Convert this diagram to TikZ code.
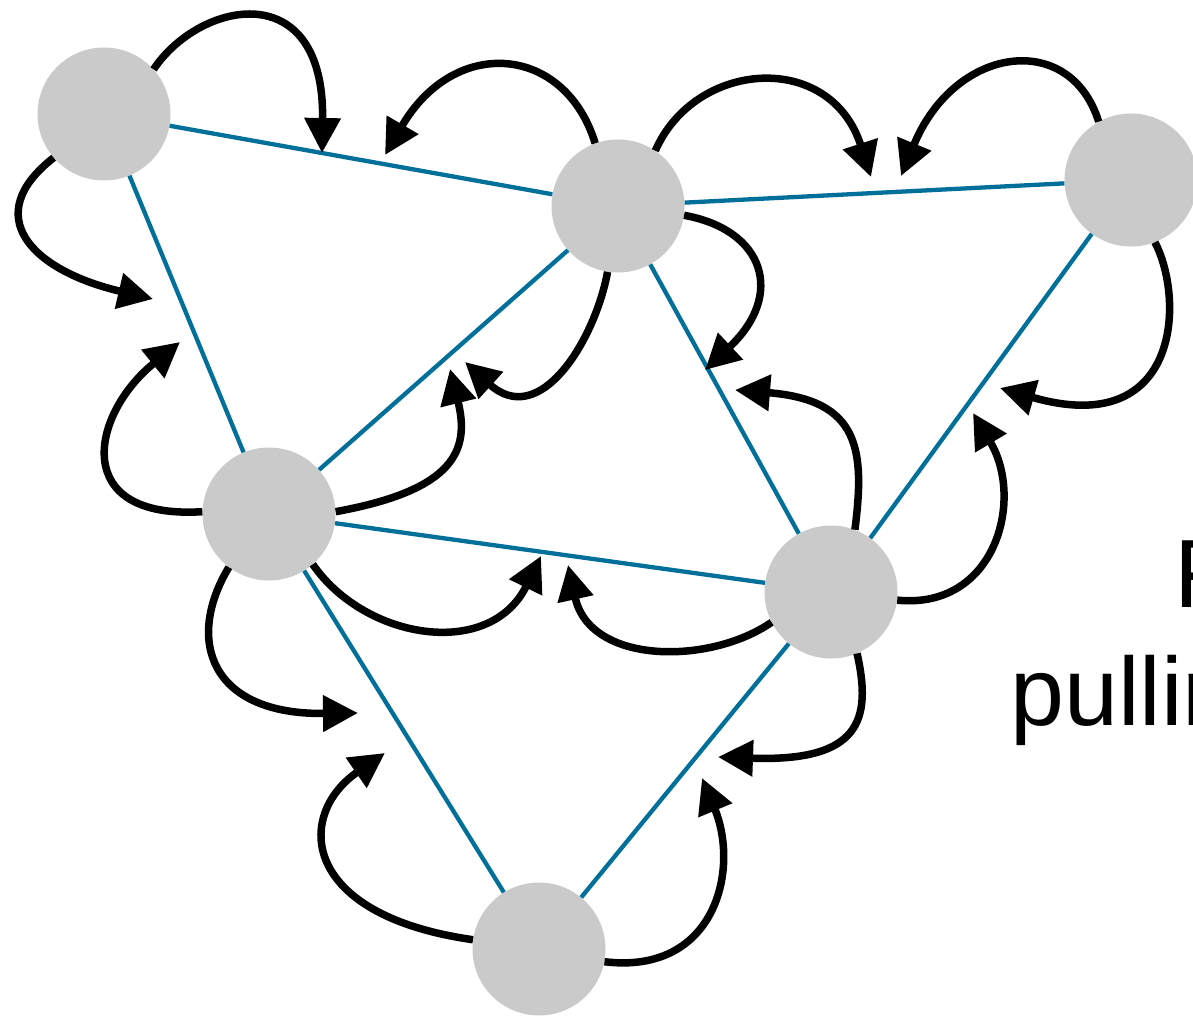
\documentclass[tikz,border=0pt]{standalone}
\usepackage{fontspec}
\setmainfont{Liberation Sans}
\usetikzlibrary{arrows.meta}
\definecolor{dotgray}{RGB}{202,202,202}
\definecolor{edgeblue}{RGB}{0,112,155}
\begin{document}
\begin{tikzpicture}[x=1pt,y=-1pt,
  dot/.style={circle,fill=dotgray,draw=none,inner sep=0pt,minimum size=133pt},
  edge/.style={draw=edgeblue,line width=4.3pt},
  force/.style={draw=black,line width=7.5pt,-{Triangle[length=35pt,width=35pt]}},
  lbl/.style={inner sep=0pt,anchor=base west,font=\fontsize{97}{118}\selectfont}]
\useasboundingbox[fill=white] (0,0) rectangle (1193,1017);
% nodes
\node[dot] (A) at (104,114) {};
\node[dot] (B) at (618,206) {};
\node[dot] (C) at (1131,180) {};
\node[dot] (D) at (269,514) {};
\node[dot] (E) at (831,592) {};
\node[dot] (F) at (539,949) {};
% edges
\draw[edge] (A) -- (B);
\draw[edge] (B) -- (C);
\draw[edge] (A) -- (D);
\draw[edge] (B) -- (D);
\draw[edge] (B) -- (E);
\draw[edge] (C) -- (E);
\draw[edge] (D) -- (E);
\draw[edge] (D) -- (F);
\draw[edge] (E) -- (F);
% arrow tips
\coordinate (t1) at (322,153);
\coordinate (t2) at (153,299);
\coordinate (t3) at (385,155);
\coordinate (t4) at (871,177);
\coordinate (t5) at (901,176);
\coordinate (t6) at (1000,388);
\coordinate (t7) at (705,370);
\coordinate (t8) at (465,362);
\coordinate (t9) at (450,369);
\coordinate (t10) at (180,342);
\coordinate (t11) at (541,556);
\coordinate (t12) at (358,713);
\coordinate (t13) at (568,565);
\coordinate (t14) at (735,390);
\coordinate (t15) at (718,757);
\coordinate (t16) at (973,413);
\coordinate (t17) at (385,753);
\coordinate (t18) at (702,778);
% forces
\draw[force] (A.42) .. controls (200,0) and (325,-25) .. (t1);
\draw[force] (A.221) .. controls (-20,215) and (30,270) .. (t2);
\draw[force] (B.110) .. controls (565,45) and (455,35) .. (t3);
\draw[force] (B.56) .. controls (695,60) and (830,50) .. (t4);
\draw[force] (C.119) .. controls (1070,30) and (955,45) .. (t5);
\draw[force] (C.291) .. controls (1185,300) and (1180,440) .. (t6);
\draw[force] (B.352) .. controls (765,230) and (785,295) .. (t7);
\draw[force] (B.261) .. controls (595,340) and (540,430) .. (t8);
\draw[force] (D.2) .. controls (455,490) and (470,450) .. (t9);
\draw[force] (D.178) .. controls (70,520) and (90,415) .. (t10);
\draw[force] (D.311) .. controls (365,640) and (490,660) .. (t11);
\draw[force] (D.233) .. controls (185,640) and (210,715) .. (t12);
\draw[force] (E.207) .. controls (710,665) and (590,665) .. (t13);
\draw[force] (E.69) .. controls (865,450) and (860,400) .. (t14);
\draw[force] (E.293) .. controls (872,720) and (860,762) .. (t15);
\draw[force] (E.353) .. controls (995,610) and (1025,500) .. (t16);
\draw[force] (F.172) .. controls (300,915) and (295,815) .. (t17);
\draw[force] (F.349) .. controls (715,975) and (740,870) .. (t18);
% text
\node[lbl] (l1) at (1174,607) {F};
\node[lbl] (l2) at (1010,725) {pullin};
\end{tikzpicture}
\end{document}
